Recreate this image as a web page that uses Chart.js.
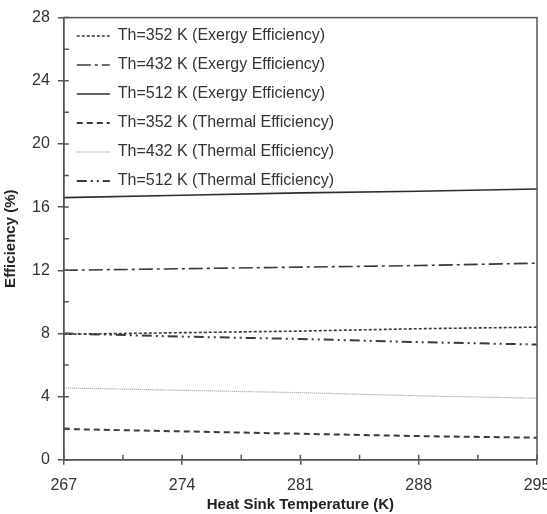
<!DOCTYPE html>
<html>
<head>
<meta charset="utf-8">
<script src="https://cdn.jsdelivr.net/npm/chart.js@4.4.0/dist/chart.umd.min.js"></script>
<style>
  html, body { margin: 0; padding: 0; background: #fff; }
  #wrap { width: 547px; height: 514px; }
</style>
</head>
<body>
<div id="wrap"><canvas id="chart" width="547" height="514"></canvas></div>
<script>
    // heat sink temperature (K)
    var temps = [267, 274, 281, 288, 295];

    var seriesNames = [
        'Th=352 K (Exergy Efficiency)',
        'Th=432 K (Exergy Efficiency)',
        'Th=512 K (Exergy Efficiency)',
        'Th=352 K (Thermal Efficiency)',
        'Th=432 K (Thermal Efficiency)',
        'Th=512 K (Thermal Efficiency)'
    ];

    // efficiency (%)
    var exergy352 = [7.95, 8.05, 8.15, 8.3, 8.4];
    var exergy432 = [12.0, 12.1, 12.2, 12.3, 12.45];
    var exergy512 = [16.6, 16.75, 16.9, 17.0, 17.15];
    var thermal352 = [1.95, 1.8, 1.65, 1.5, 1.4];
    var thermal432 = [4.55, 4.4, 4.25, 4.05, 3.9];
    var thermal512 = [8.0, 7.8, 7.65, 7.45, 7.3];

    var xTicks = [267, 274, 281, 288, 295];
    var yTicks = [0, 4, 8, 12, 16, 20, 24, 28];

    function toPoints(xs, ys) {
        var output = [];
        for (var i = 0; i < xs.length; i++) {
            output.push({x: xs[i], y: ys[i]});
        }
        return output;
    }

    var allSeries = [exergy352, exergy432, exergy512, thermal352, thermal432, thermal512];
    var styles = [
        {color: '#3a3a3a', width: 1.6, dash: [3, 2]},
        {color: '#3a3a3a', width: 1.6, dash: [14, 4, 3, 4]},
        {color: '#2e2e2e', width: 1.6, dash: []},
        {color: '#3a3a3a', width: 2, dash: [6, 4]},
        {color: '#9a9a9a', width: 1.2, dash: [1, 1]},
        {color: '#3a3a3a', width: 2, dash: [10, 4, 2, 4, 2, 4]}
    ];

    var datasets = [];
    for (var i = 0; i < allSeries.length; i++) {
        datasets.push({
            label: seriesNames[i],
            data: toPoints(temps, allSeries[i]),
            borderColor: styles[i].color,
            backgroundColor: styles[i].color,
            borderWidth: styles[i].width,
            borderDash: styles[i].dash,
            pointRadius: 0,
            pointStyle: 'line',
            fill: false,
            tension: 0
        });
    }

    // frame round the plot and the inner halves of the tick marks
    var frame = {
        id: 'frame',
        afterDraw: function(chart) {
            var a = chart.chartArea;
            var ctx = chart.ctx;
            var xs = chart.scales.x, ys = chart.scales.y;
            ctx.save();
            ctx.strokeStyle = '#555';
            ctx.lineWidth = 1.5;
            ctx.strokeRect(a.left, a.top, a.right - a.left, a.bottom - a.top);
            ctx.beginPath();
            for (var v = 267; v <= 295; v += 3.5) {
                var px = xs.getPixelForValue(v);
                ctx.moveTo(px, a.bottom);
                ctx.lineTo(px, a.bottom - 5);
            }
            for (var w = 0; w <= 28; w += 2) {
                var py = ys.getPixelForValue(w);
                ctx.moveTo(a.left, py);
                ctx.lineTo(a.left + 5, py);
            }
            ctx.stroke();
            ctx.restore();
        }
    };

    var ctx = document.getElementById('chart').getContext('2d');

    var lineChart = new Chart(ctx, {
        type: 'line',
        data: {datasets: datasets},
        plugins: [frame],
        options: {
            responsive: false,
            animation: false,
            layout: {autoPadding: false, padding: {left: 2, right: 10, top: 16, bottom: 0}},
            plugins: {
                tooltip: {enabled: false},
                legend: {
                    position: 'chartArea',
                    align: 'start',
                    title: {display: true, text: '', font: {size: 10}, padding: {top: 3, bottom: 0}},
                    labels: {
                        usePointStyle: true,
                        pointStyleWidth: 33,
                        boxWidth: 33,
                        boxHeight: 10,
                        padding: 13,
                        color: '#333',
                        font: {family: 'Liberation Sans', size: 16},
                        generateLabels: function(chart) {
                            var items = Chart.defaults.plugins.legend.labels.generateLabels(chart);
                            items.forEach(function(item, k) {
                                var ds = chart.data.datasets[k];
                                item.lineDash = ds.borderDash;
                                item.lineWidth = ds.borderWidth;
                                item.strokeStyle = ds.borderColor;
                                item.fillStyle = ds.borderColor;
                            });
                            return items;
                        }
                    }
                }
            },
            scales: {
                x: {
                    type: 'linear',
                    min: 267,
                    max: 295,
                    afterBuildTicks: function(axis) {
                        axis.ticks = xTicks.map(function(v) { return {value: v}; });
                    },
                    afterFit: function(axis) {
                        axis.paddingRight = 0;
                        axis.paddingLeft = 0;
                    },
                    grid: {drawOnChartArea: false, color: '#555', tickLength: 5, lineWidth: 1.5},
                    border: {color: '#555', width: 1.5},
                    ticks: {color: '#333', font: {family: 'Liberation Sans', size: 16}, padding: 11},
                    title: {
                        display: true,
                        text: 'Heat Sink Temperature (K)',
                        color: '#222',
                        font: {family: 'Liberation Sans', size: 15, weight: 'bold'},
                        padding: {top: -10, bottom: 0}
                    }
                },
                y: {
                    type: 'linear',
                    min: 0,
                    max: 28,
                    afterBuildTicks: function(axis) {
                        axis.ticks = yTicks.map(function(v) { return {value: v}; });
                    },
                    grid: {drawOnChartArea: false, color: '#555', tickLength: 6, lineWidth: 1.5},
                    border: {color: '#555', width: 1.5},
                    ticks: {color: '#333', font: {family: 'Liberation Sans', size: 16}, padding: 8},
                    title: {
                        display: true,
                        text: 'Efficiency (%)',
                        color: '#222',
                        font: {family: 'Liberation Sans', size: 15, weight: 'bold'},
                        padding: {top: 0, bottom: 4}
                    }
                }
            }
        }
    });
</script>
</body>
</html>
